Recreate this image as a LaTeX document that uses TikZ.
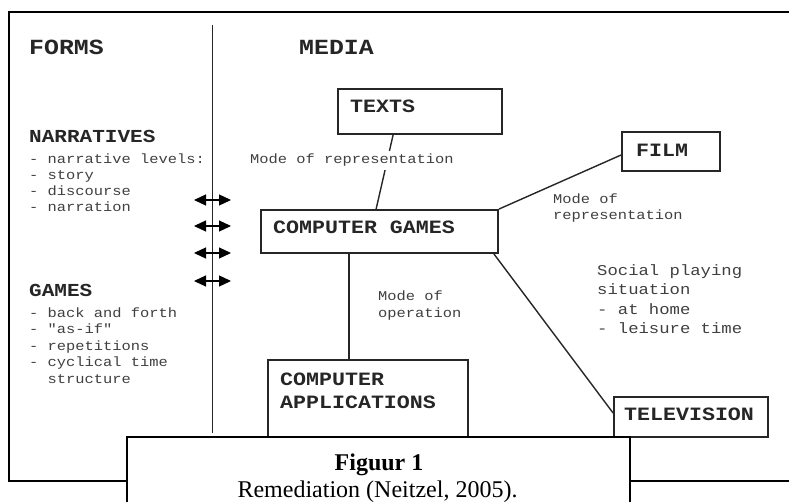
\documentclass[tikz,border=0pt]{standalone}
\usepackage{fontspec}
\setmainfont{Liberation Serif}
\newfontfamily\scanmono[FakeStretch=1.15]{Liberation Mono}
\usetikzlibrary{arrows.meta}
\tikzset{
  medbox/.style={draw=black!85, line width=1.8pt, inner sep=0pt, minimum width=#1},
  medbox/.default=100pt,
  bighead/.style={font={\scanmono\bfseries\fontsize{21.6}{24}\selectfont}, inner sep=0pt, anchor=base west, text=black!85},
  boxtitle/.style={font={\scanmono\bfseries\fontsize{18.8}{22}\selectfont}, inner sep=0pt, anchor=base west, text=black!85},
  subhead/.style={font={\scanmono\bfseries\fontsize{18.3}{21}\selectfont}, inner sep=0pt, anchor=base west, text=black!85},
  smalltxt/.style={font={\scanmono\fontsize{13.4}{16}\selectfont}, inner sep=0pt, anchor=base west, text=black!75},
  socialtxt/.style={font={\scanmono\fontsize{15.0}{18}\selectfont}, inner sep=0pt, anchor=base west, text=black!75},
  conn/.style={draw=black!85, line width=1.4pt},
  dblarrow/.style={draw=black, line width=1.2pt, {Triangle[length=12pt,width=11pt]}-{Triangle[length=12pt,width=11pt]}},
  frameline/.style={draw=black, line width=1.4pt},
}
\begin{document}
\begin{tikzpicture}[x=1pt,y=-1pt]
\useasboundingbox (0,0) rectangle (789,502);
\fill[white] (0,0) rectangle (789,502);

% outer frame (right side off the picture)
\coordinate (frTR) at (789,12);
\coordinate (frTL) at (9,12);
\coordinate (frBL) at (9,481);
\coordinate (frBR) at (789,481);
\draw[frameline] (frTR) -- (frTL) -- (frBL) -- (frBR);

% divider
\coordinate (divT) at (212.5,25);
\coordinate (divB) at (212.5,433);
\draw[draw=black!85, line width=1.3pt] (divT) -- (divB);

% headings
\node[bighead] (forms) at (29,55) {FORMS};
\node[bighead] (media) at (299,55) {MEDIA};

% narratives
\node[subhead] (narr) at (29,143) {NARRATIVES};
\foreach \t [count=\i from 0] in {{- narrative levels:},{- story},{- discourse},{- narration}}
  \node[smalltxt] (narr\i) at (29,{164+16*\i}) {\t};

% games
\node[subhead] (games) at (29,297) {GAMES};
\foreach \t [count=\i from 0] in {{- back and forth},{- "as-if"},{- repetitions},{- cyclical time},{\ \ structure}}
  \node[smalltxt] (game\i) at (29,{317+16.5*\i}) {\t};

% double arrows
\foreach \yy [count=\i] in {200,226,253,281}{
  \coordinate (aL\i) at (194,\yy);
  \coordinate (aR\i) at (231,\yy);
  \draw[dblarrow] (aL\i) -- (aR\i);
}

% media boxes
\node[medbox=164pt, minimum height=45pt] (texts) at (420,111.5) {};
\node[medbox=237pt, minimum height=43pt] (cg) at (379.5,231.5) {};
\node[medbox=98pt, minimum height=39pt] (film) at (671,151.5) {};
\node[medbox=200pt, minimum height=110pt] (ca) at (368,415) {};
\node[medbox=154pt, minimum height=40pt] (tv) at (691,417) {};

\node[boxtitle] (textsT) at (350,113) {TEXTS};
\node[boxtitle] (cgT) at (273,234) {COMPUTER GAMES};
\node[boxtitle] (filmT) at (636,157) {FILM};
\node[boxtitle] (caT1) at (280,385) {COMPUTER};
\node[boxtitle] (caT2) at (280,408) {APPLICATIONS};
\node[boxtitle] (tvT) at (624,420) {TELEVISION};

% connectors
\draw[conn] ([xshift=56pt]texts.south west) -- ([xshift=116pt]cg.north west);
\draw[conn] (cg.north east) -- ([yshift=-3.5pt]film.west);
\draw[conn] ([xshift=89pt]cg.south west) -- ([xshift=82pt]ca.north west);
\draw[conn] ([xshift=-5pt]cg.south east) -- ([yshift=4pt]tv.west);

% connector labels
\node[smalltxt, fill=white, inner xsep=0pt, inner ysep=3pt] (lblTexts) at (250,164) {Mode of representation};
\node[smalltxt] (lblFilm1) at (553,204) {Mode of};
\node[smalltxt] (lblFilm2) at (553,220) {representation};
\node[smalltxt] (lblCa1) at (378,301) {Mode of};
\node[smalltxt] (lblCa2) at (378,318) {operation};
\foreach \t [count=\i from 0] in {{Social playing},{situation},{- at home},{- leisure time}}
  \node[socialtxt] (soc\i) at (597,{276+19*\i}) {\t};

% caption box
\coordinate (capBL) at (127,503);
\coordinate (capTL) at (127,437);
\coordinate (capTR) at (630,437);
\coordinate (capBR) at (630,503);
\fill[white] (capBL) rectangle (capTR);
\draw[frameline] (capBL) -- (capTL) -- (capTR) -- (capBR);
\node[font={\bfseries\fontsize{24}{26}\selectfont}, anchor=base, inner sep=0pt] (capTitle) at (379,470) {Figuur 1};
\node[font={\fontsize{24}{26}\selectfont}, anchor=base, inner sep=0pt] (capText) at (377.5,497) {Remediation (Neitzel, 2005).};
\end{tikzpicture}
\end{document}
